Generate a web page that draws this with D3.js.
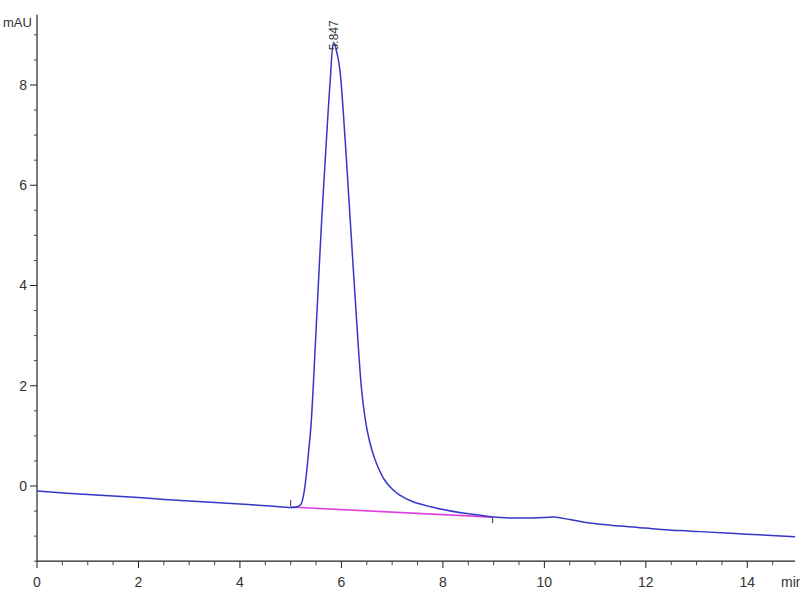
<!DOCTYPE html>
<html>
<head>
<meta charset="utf-8">
<script src="https://cdn.jsdelivr.net/npm/d3@7"></script>
<style>
  body { margin: 0; background: #fff; }
  text { font-family: "Liberation Sans Narrow", "Liberation Sans", Arial, sans-serif; fill: #333; }
</style>
</head>
<body>
<div id="chart"></div>
<script>
// chromatogram trace (min, mAU)
var times = [0, 1, 2, 3, 4, 4.6, 5.0, 5.12, 5.2, 5.25, 5.3, 5.35, 5.4, 5.5, 5.6, 5.71, 5.78, 5.847,
             5.92, 5.97, 6.08, 6.18, 6.3, 6.4, 6.5, 6.6, 6.72, 6.85, 7.0, 7.15, 7.4, 7.74, 8.0, 8.39, 8.7, 8.99,
             9.5, 10.0, 10.2, 10.5, 10.9, 11.5, 12.0, 12.67, 13.06, 14.0, 14.94];
var mau = [-0.10, -0.17, -0.23, -0.30, -0.36, -0.40, -0.43, -0.42, -0.37, -0.2, 0.15, 0.65, 1.2, 3.1, 5.1, 7.0, 8.1, 8.85,
           8.6, 8.3, 6.8, 5.2, 3.3, 1.9, 1.15, 0.72, 0.38, 0.12, -0.06, -0.18, -0.31, -0.41, -0.47, -0.54, -0.58, -0.62,
           -0.64, -0.63, -0.62, -0.67, -0.74, -0.80, -0.84, -0.89, -0.91, -0.96, -1.01];

// integration baseline under the peak
var baseT = [5.0, 8.98];
var baseV = [-0.42, -0.62];

var peakTime = 5.847, peakHeight = 8.85, peakLabel = "5.847";

var xMajor = [0, 2, 4, 6, 8, 10, 12, 14];
var yMajor = [0, 2, 4, 6, 8];

var width = 800, height = 600;

var svg = d3.select("#chart").append("svg")
    .attr("width", width)
    .attr("height", height);

var x = d3.scaleLinear().domain([0, 14.94]).range([37, 795]);
var y = d3.scaleLinear().domain([-1.5, 9.4]).range([561.2, 14.8]);

// y axis
var yAxis = svg.append("g").attr("transform", "translate(" + x(0) + ",0)");
yAxis.append("line").attr("y1", y(9.4)).attr("y2", y(-1.5)).attr("stroke", "#222").attr("stroke-width", 1.2);
yAxis.selectAll(".ymin").data(d3.range(-1.5, 9.01, 0.5).filter(function(d) { return yMajor.indexOf(d) < 0; }))
  .enter().append("line")
    .attr("x1", -3).attr("x2", 0)
    .attr("y1", function(d) { return y(d); }).attr("y2", function(d) { return y(d); })
    .attr("stroke", "#444");
yAxis.selectAll(".ymaj").data(yMajor).enter().append("line")
    .attr("x1", -7).attr("x2", 0)
    .attr("y1", function(d) { return y(d); }).attr("y2", function(d) { return y(d); })
    .attr("stroke", "#222");
yAxis.selectAll(".ylab").data(yMajor).enter().append("text")
    .attr("x", -10).attr("y", function(d) { return y(d) + 5; })
    .attr("text-anchor", "end").attr("font-size", 14)
    .text(function(d) { return d; });
svg.append("text").attr("x", 3).attr("y", 27).attr("font-size", 13).text("mAU");

// x axis
var xAxis = svg.append("g").attr("transform", "translate(0," + y(-1.5) + ")");
xAxis.append("line").attr("x1", x(0)).attr("x2", x(14.94)).attr("stroke", "#222").attr("stroke-width", 1.2);
xAxis.selectAll(".xmin").data(d3.range(0.5, 14.91, 0.5).filter(function(d) { return xMajor.indexOf(d) < 0; }))
  .enter().append("line")
    .attr("x1", function(d) { return x(d); }).attr("x2", function(d) { return x(d); })
    .attr("y1", 0).attr("y2", 4)
    .attr("stroke", "#444");
xAxis.selectAll(".xmaj").data(xMajor).enter().append("line")
    .attr("x1", function(d) { return x(d); }).attr("x2", function(d) { return x(d); })
    .attr("y1", 0).attr("y2", 7)
    .attr("stroke", "#222");
xAxis.selectAll(".xlab").data(xMajor).enter().append("text")
    .attr("x", function(d) { return x(d); }).attr("y", 26)
    .attr("text-anchor", "middle").attr("font-size", 14)
    .text(function(d) { return d; });
xAxis.append("text").attr("x", 781).attr("y", 26).attr("font-size", 14).text("min");

// trace
var pts = times.map(function(t, i) { return [t, mau[i]]; });
var line = d3.line()
    .x(function(d) { return x(d[0]); })
    .y(function(d) { return y(d[1]); })
    .curve(d3.curveCatmullRom.alpha(0.5));

svg.append("path").datum(baseT.map(function(t, i) { return [t, baseV[i]]; }))
    .attr("d", d3.line().x(function(d) { return x(d[0]); }).y(function(d) { return y(d[1]); }))
    .attr("fill", "none").attr("stroke", "#e040e0").attr("stroke-width", 1.6);

svg.append("path").datum(pts)
    .attr("d", line)
    .attr("fill", "none")
    .attr("stroke", "#3535c8")
    .attr("stroke-width", 1.5);

// peak start / end marks
svg.append("line").attr("x1", x(baseT[0])).attr("x2", x(baseT[0]))
    .attr("y1", y(baseV[0]) - 7).attr("y2", y(baseV[0]) - 1).attr("stroke", "#333");
svg.append("line").attr("x1", x(baseT[1])).attr("x2", x(baseT[1]))
    .attr("y1", y(baseV[1]) + 1).attr("y2", y(baseV[1]) + 6).attr("stroke", "#333");

// retention time label
svg.append("text")
    .attr("transform", "translate(" + (x(peakTime) + 4) + "," + (y(peakHeight) + 8) + ") rotate(-90)")
    .attr("font-size", 12)
    .text(peakLabel);
</script>
</body>
</html>
